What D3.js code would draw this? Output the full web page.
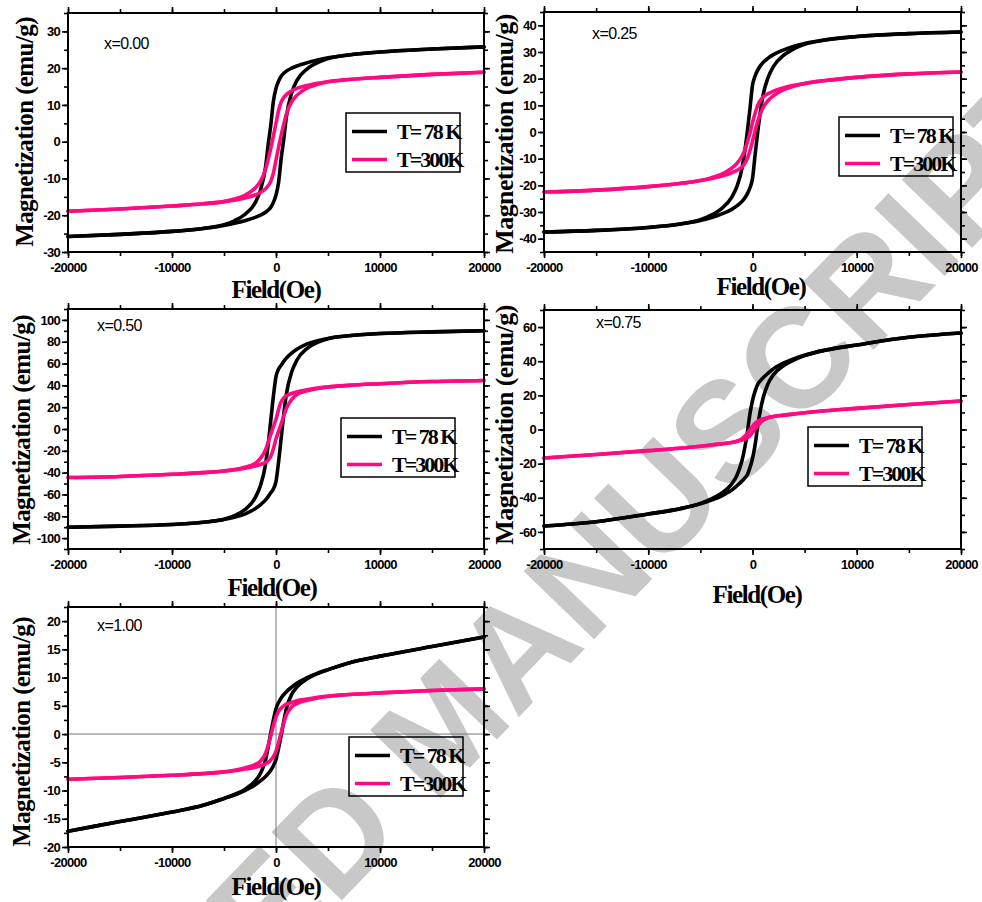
<!DOCTYPE html>
<html>
<head>
<meta charset="utf-8">
<script src="https://cdn.jsdelivr.net/npm/d3@7"></script>
<style>
  body { margin: 0; background: #fff; }
  svg { display: block; }
</style>
</head>
<body>
<svg id="fig" width="982" height="902"></svg>
<script>
// Applied field (Oe), shared by every branch
const fieldOe = [-20000, -15000, -10000, -7000, -5000, -4000, -3000, -2000, -1500, -1000, -750, -500, -250,
  0, 250, 500, 750, 1000, 1500, 2000, 3000, 4000, 5000, 7000, 10000, 15000, 20000];

const sampleLabels = ["x=0.00", "x=0.25", "x=0.50", "x=0.75", "x=1.00"];
const tempLabels = ["T= 78 K", "T=300K"];
const xTickValues = [-20000, -10000, 0, 10000, 20000];

// Magnetization (emu/g): "down" = field sweeping from +20 kOe to -20 kOe, "up" = reverse sweep
const m000_78K_down = [-25.8, -25.2, -24.4, -23.6, -22.6, -21.5, -19.8, -16.6, -13.2, -6.8, -0.8, 4.5, 11,
  14.5, 16.5, 17.8, 18.6, 19.2, 20, 20.6, 21.5, 22.2, 22.8, 23.6, 24.4, 25.2, 25.8];
const m000_78K_up = [-25.8, -25.2, -24.4, -23.6, -22.8, -22.2, -21.5, -20.6, -20, -19.2, -18.6, -17.8, -16.5,
  -14.5, -11, -4.5, 0.8, 6.8, 13.2, 16.6, 19.8, 21.5, 22.6, 23.6, 24.4, 25.2, 25.8];
const m000_300K_down = [-18.9, -18.3, -17.5, -16.9, -16.3, -15.6, -14.6, -12.6, -10.8, -7.5, -4.8, -1.8, 1.5,
  5, 8.5, 10.8, 12, 12.8, 13.8, 14.5, 15.3, 15.9, 16.3, 16.9, 17.5, 18.3, 18.9];
const m000_300K_up = [-18.9, -18.3, -17.5, -16.9, -16.3, -15.9, -15.3, -14.5, -13.8, -12.8, -12, -10.8, -8.5,
  -5, -1.5, 1.8, 4.8, 7.5, 10.8, 12.6, 14.6, 15.6, 16.3, 16.9, 17.5, 18.3, 18.9];

const m025_78K_down = [-37.5, -36.9, -35.8, -34.5, -32.9, -31.3, -28.8, -24.5, -20.5, -13.5, -7.5, 0, 8.5,
  17.5, 21, 23.2, 24.8, 26, 27.7, 29, 30.8, 32.2, 33.2, 34.6, 35.8, 36.9, 37.5];
const m025_78K_up = [-37.5, -36.9, -35.8, -34.6, -33.2, -32.2, -30.8, -29, -27.7, -26, -24.8, -23.2, -21,
  -17.5, -8.5, 0, 7.5, 13.5, 20.5, 24.5, 28.8, 31.3, 32.9, 34.5, 35.8, 36.9, 37.5];
const m025_300K_down = [-22.5, -21.8, -20.5, -19.3, -18.2, -17.2, -15.9, -13.6, -11.8, -9, -6.8, -4, -0.5,
  3.5, 7, 10, 11.8, 13, 14.4, 15.3, 16.6, 17.5, 18.2, 19.3, 20.5, 21.8, 22.5];
const m025_300K_up = [-22.5, -21.8, -20.5, -19.3, -18.2, -17.5, -16.6, -15.3, -14.4, -13, -11.8, -10, -7,
  -3.5, 0.5, 4, 6.8, 9, 11.8, 13.6, 15.9, 17.2, 18.2, 19.3, 20.5, 21.8, 22.5];

const m050_78K_down = [-90, -89, -87.5, -85.5, -82.8, -79.5, -74, -63, -52, -32, -14, 8, 30,
  48, 55, 58.5, 62, 65, 69.5, 73, 78, 81, 83, 85.5, 87.5, 89, 90];
const m050_78K_up = [-90, -89, -87.5, -85.5, -83, -81, -78, -73, -69.5, -65, -62, -58.5, -55,
  -48, -30, -8, 14, 32, 52, 63, 74, 79.5, 82.8, 85.5, 87.5, 89, 90];
const m050_300K_down = [-44.5, -43.5, -41.5, -40, -38.5, -37.2, -35, -31.5, -27, -19, -12, -5, 2,
  9, 18, 25, 28.5, 30.5, 32.5, 34, 36, 37.5, 38.5, 40, 41.5, 43.5, 44.5];
const m050_300K_up = [-44.5, -43.5, -41.5, -40, -38.5, -37.5, -36, -34, -32.5, -30.5, -28.5, -25, -18,
  -9, -2, 5, 12, 19, 27, 31.5, 35, 37.2, 38.5, 40, 41.5, 43.5, 44.5];

const m075_78K_down = [-56.5, -54, -49.5, -46.5, -43.3, -40.8, -37.5, -32, -27, -18, -11, -2, 9,
  17, 22.5, 26.5, 28.5, 30.2, 33, 35.5, 39, 41.5, 43.5, 46.5, 49.5, 54, 56.5];
const m075_78K_up = [-56.5, -54, -49.5, -46.5, -43.5, -41.5, -39, -35.5, -33, -30.2, -28.5, -26.5, -22.5,
  -17, -9, 2, 11, 18, 27, 32, 37.5, 40.8, 43.3, 46.5, 49.5, 54, 56.5];
const m075_300K_down = [-16.7, -14.6, -12.4, -11, -9.8, -9.1, -8.4, -7.6, -6.8, -5.4, -4, -2.2, -0.2,
  1.8, 3.6, 4.8, 5.6, 6.2, 7, 7.6, 8.4, 9.1, 9.8, 11, 12.4, 14.6, 16.7];
const m075_300K_up = [-16.7, -14.6, -12.4, -11, -9.8, -9.1, -8.4, -7.6, -7, -6.2, -5.6, -4.8, -3.6,
  -1.8, 0.2, 2.2, 4, 5.4, 6.8, 7.6, 8.4, 9.1, 9.8, 11, 12.4, 14.6, 16.7];

const m100_78K_down = [-17.2, -15.5, -13.8, -12.6, -11.4, -10.7, -9.8, -8.3, -7, -4.5, -2.3, 0.2, 2.5,
  4.5, 5.6, 6.4, 7, 7.5, 8.3, 9, 10, 10.8, 11.4, 12.6, 13.8, 15.5, 17.2];
const m100_78K_up = [-17.2, -15.5, -13.8, -12.6, -11.4, -10.8, -10, -9, -8.3, -7.5, -7, -6.4, -5.6,
  -4.5, -2.5, -0.2, 2.3, 4.5, 7, 8.3, 9.8, 10.7, 11.4, 12.6, 13.8, 15.5, 17.2];
const m100_300K_down = [-8, -7.7, -7.3, -7, -6.7, -6.4, -6, -5.4, -4.8, -3.4, -2, -0.3, 1.5,
  3, 4, 4.6, 5, 5.3, 5.6, 5.9, 6.2, 6.5, 6.7, 7, 7.3, 7.7, 8];
const m100_300K_up = [-8, -7.7, -7.3, -7, -6.7, -6.5, -6.2, -5.9, -5.6, -5.3, -5, -4.6, -4,
  -3, -1.5, 0.3, 2, 3.4, 4.8, 5.4, 6, 6.4, 6.7, 7, 7.3, 7.7, 8];

const lineColors = ["#000000", "#ff0a80"];

// Panel layout: frame box, y range, tick spacing and text placement
const panels = [
  { box: [68, 13, 484, 252], yDomain: [-30, 35], yMajor: 10, yMinor: 5, label: sampleLabels[0], labelAt: [104, 49],
    legendAt: [346, 113], xTitleAt: [276, 298], yTitleAt: [33, 132], yTitleSize: 25,
    data: [[m000_78K_down, m000_78K_up], [m000_300K_down, m000_300K_up]] },
  { box: [544, 12, 961, 252], yDomain: [-45, 45], yMajor: 10, yMinor: 5, label: sampleLabels[1], labelAt: [592, 39],
    legendAt: [839, 117], xTitleAt: [761, 295], yTitleAt: [513, 134], yTitleSize: 26,
    data: [[m025_78K_down, m025_78K_up], [m025_300K_down, m025_300K_up]] },
  { box: [68, 309, 484, 549], yDomain: [-110, 110], yMajor: 20, yMinor: 10, label: sampleLabels[2], labelAt: [97, 331],
    legendAt: [341, 418], xTitleAt: [272, 596], yTitleAt: [30, 430], yTitleSize: 25,
    data: [[m050_78K_down, m050_78K_up], [m050_300K_down, m050_300K_up]] },
  { box: [544, 310, 961, 549], yDomain: [-70, 70], yMajor: 20, yMinor: 10, label: sampleLabels[3], labelAt: [596, 328],
    legendAt: [808, 427], xTitleAt: [757, 603], yTitleAt: [513, 425], yTitleSize: 26,
    data: [[m075_78K_down, m075_78K_up], [m075_300K_down, m075_300K_up]] },
  { box: [68, 607, 484, 847], yDomain: [-20, 22.5], yMajor: 5, yMinor: 2.5, label: sampleLabels[4], labelAt: [97, 631],
    legendAt: [349, 737], xTitleAt: [276, 895], yTitleAt: [30, 732], yTitleSize: 25, zeroLines: true,
    data: [[m100_78K_down, m100_78K_up], [m100_300K_down, m100_300K_up]] }
];

const svg = d3.select("#fig");
const serif = "'Liberation Serif', 'Times New Roman', serif";
const sans = "'Liberation Sans', Arial, sans-serif";

// Diagonal watermark behind the figure
svg.append("text")
  .attr("transform", "translate(441,724) rotate(-46)")
  .attr("text-anchor", "middle")
  .attr("dy", "0.36em")
  .attr("font-family", sans)
  .attr("font-weight", "bold")
  .attr("font-size", 142)
  .attr("fill", "#c8c8c8")
  .text("ACCEPTED MANUSCRIPT");

function stepTicks(domain, step) {
  const lo = Math.ceil(domain[0] / step - 1e-9), hi = Math.floor(domain[1] / step + 1e-9);
  return d3.range(lo, hi + 1).map(k => +(k * step).toFixed(4));
}

function drawPanel(p) {
  const [x0, y0, x1, y1] = p.box;
  const g = svg.append("g");
  const x = d3.scaleLinear().domain([-20000, 20000]).range([x0, x1]);
  const y = d3.scaleLinear().domain(p.yDomain).range([y1, y0]);

  const xMinor = stepTicks([-20000, 20000], 5000);
  const yMajor = stepTicks(p.yDomain, p.yMajor);
  const yMinor = stepTicks(p.yDomain, p.yMinor);

  const styleAxis = sel => {
    sel.select(".domain").remove();
    sel.selectAll(".tick line").attr("stroke", "#000").attr("stroke-width", 1.6);
  };
  const styleLabels = sel => sel.selectAll("text")
    .attr("font-family", sans).attr("font-weight", "bold").attr("font-size", 13)
    .attr("letter-spacing", "-0.7px").attr("fill", "#000");

  // Minor ticks on all four sides
  g.append("g").attr("transform", `translate(0,${y1})`)
    .call(d3.axisBottom(x).tickValues(xMinor).tickSize(4).tickFormat("")).call(styleAxis);
  g.append("g").attr("transform", `translate(0,${y0})`)
    .call(d3.axisTop(x).tickValues(xMinor).tickSize(4).tickFormat("")).call(styleAxis);
  g.append("g").attr("transform", `translate(${x0},0)`)
    .call(d3.axisLeft(y).tickValues(yMinor).tickSize(4).tickFormat("")).call(styleAxis);
  g.append("g").attr("transform", `translate(${x1},0)`)
    .call(d3.axisRight(y).tickValues(yMinor).tickSize(4).tickFormat("")).call(styleAxis);

  // Major ticks with labels (bottom, left)
  const bx = g.append("g").attr("transform", `translate(0,${y1})`)
    .call(d3.axisBottom(x).tickValues(xTickValues).tickSize(6).tickPadding(3).tickFormat(d => String(d)))
    .call(styleAxis).call(styleLabels);
  bx.selectAll("text").attr("dy", "0.86em");
  g.append("g").attr("transform", `translate(${x0},0)`)
    .call(d3.axisLeft(y).tickValues(yMajor).tickSize(6).tickPadding(2).tickFormat(d => String(d)))
    .call(styleAxis).call(styleLabels);
  g.append("g").attr("transform", `translate(0,${y0})`)
    .call(d3.axisTop(x).tickValues(xTickValues).tickSize(6).tickFormat("")).call(styleAxis);
  g.append("g").attr("transform", `translate(${x1},0)`)
    .call(d3.axisRight(y).tickValues(yMajor).tickSize(6).tickFormat("")).call(styleAxis);

  // Reference lines through the origin
  if (p.zeroLines) {
    g.append("line").attr("x1", x(0)).attr("x2", x(0)).attr("y1", y0).attr("y2", y1)
      .attr("stroke", "#777").attr("stroke-width", 1);
    g.append("line").attr("x1", x0).attr("x2", x1).attr("y1", y(0)).attr("y2", y(0))
      .attr("stroke", "#777").attr("stroke-width", 1);
  }

  // Hysteresis loops: 78 K first, 300 K on top
  const line = d3.line().x(d => x(d[0])).y(d => y(d[1])).curve(d3.curveMonotoneX);
  p.data.forEach((branches, i) => {
    branches.forEach(vals => {
      g.append("path")
        .attr("d", line(d3.zip(fieldOe, vals)))
        .attr("fill", "none")
        .attr("stroke", lineColors[i])
        .attr("stroke-width", 3.6)
        .attr("stroke-linejoin", "round")
        .attr("stroke-linecap", "round");
    });
  });

  // Frame
  g.append("rect").attr("x", x0).attr("y", y0).attr("width", x1 - x0).attr("height", y1 - y0)
    .attr("fill", "none").attr("stroke", "#000").attr("stroke-width", 2);

  // Composition label
  g.append("text").attr("x", p.labelAt[0]).attr("y", p.labelAt[1])
    .attr("font-family", sans).attr("font-size", 16).attr("letter-spacing", "-0.6px")
    .attr("fill", "#000").text(p.label);

  // Legend
  const [lx, lyy] = p.legendAt;
  const lg = g.append("g").attr("transform", `translate(${lx},${lyy})`);
  lg.append("rect").attr("width", 114).attr("height", 59).attr("fill", "none")
    .attr("stroke", "#000").attr("stroke-width", 1.5);
  tempLabels.forEach((t, i) => {
    const ry = 18.5 + i * 28;
    lg.append("line").attr("x1", 6).attr("x2", 41).attr("y1", ry).attr("y2", ry)
      .attr("stroke", lineColors[i]).attr("stroke-width", 3.6);
    lg.append("text").attr("x", 51).attr("y", ry + 7.5)
      .attr("font-family", serif).attr("font-weight", "bold").attr("font-size", 22)
      .attr("letter-spacing", "-2px").attr("fill", "#000").text(t);
  });

  // Axis titles
  g.append("text").attr("x", p.xTitleAt[0]).attr("y", p.xTitleAt[1])
    .attr("text-anchor", "middle").attr("font-family", serif).attr("font-weight", "bold")
    .attr("font-size", 25).attr("letter-spacing", "-1.4px").attr("fill", "#000").text("Field(Oe)");
  g.append("text")
    .attr("transform", `translate(${p.yTitleAt[0]},${p.yTitleAt[1]}) rotate(-90)`)
    .attr("text-anchor", "middle").attr("font-family", serif).attr("font-weight", "bold")
    .attr("font-size", p.yTitleSize).attr("letter-spacing", "-0.6px").attr("fill", "#000")
    .text("Magnetization (emu/g)");
}

panels.forEach(drawPanel);
</script>
</body>
</html>
